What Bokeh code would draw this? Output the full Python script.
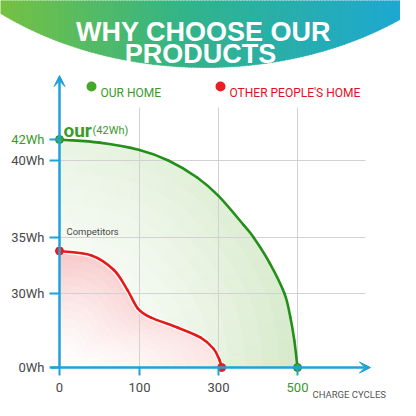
import numpy as np
from bokeh.plotting import figure
from bokeh.models import Range1d, LinearAxis, FixedTicker, Label, Arrow, VeeHead
from bokeh.embed import file_html
from bokeh.resources import INLINE

# ---------------- data ----------------
cycle_ticks = [0, 100, 300, 500]
cycle_labels = ["0", "100", "300", "500"]
wh_ticks = [0, 30, 35, 40, 42]
wh_labels = ["0Wh", "30Wh", "35Wh", "40Wh", "42Wh"]

our_cycles = [0, 50, 100, 173, 246, 300, 364, 389, 430, 467, 482, 492, 500]
our_wh = [42, 41.7, 41.0, 40.0, 38.9, 37.7, 35.8, 35.0, 32.7, 30.0, 20.3, 10.9, 0]

comp_cycles = [0, 40, 68, 85, 98, 128, 196, 254, 287, 302, 308]
comp_wh = [33.8, 33.4, 32.1, 30.3, 23.9, 20.3, 16.2, 12.2, 7.7, 3.2, 0]

# ---------------- layout (axis anchors, canvas pixels) ----------------
X_PIX = [59, 139, 218, 297]
Y_PIX = [367, 293, 237, 160, 139]


def fx(c):
    return np.interp(np.asarray(c, dtype=float), cycle_ticks, X_PIX)


def fy(w):
    return np.interp(np.asarray(w, dtype=float), wh_ticks, Y_PIX)


GREEN = "#23901a"
GREEN_TXT = "#3a9a2a"
RED = "#e31b1b"
BLUE = "#1fa2d8"
GRAY = "#474747"
GRID = "#d2d2d2"
SANS = "Roboto"

p = figure(width=400, height=400, x_range=Range1d(0, 400), y_range=Range1d(400, 0),
           x_axis_type=None, y_axis_type=None, toolbar_location=None,
           output_backend="svg", min_border=0, outline_line_color=None,
           background_fill_color="white", border_fill_color="white")

# ---------------- banner ----------------
def banner_bottom(x):
    return -166 + 233 * np.sqrt(np.clip(1 - ((x - 205) / 320.0) ** 2, 0, None))

stops = [(0.0, (118, 194, 66)), (0.45, (50, 180, 138)), (1.0, (28, 167, 214))]

def grad(t):
    for (t0, c0), (t1, c1) in zip(stops[:-1], stops[1:]):
        if t <= t1:
            f = (t - t0) / (t1 - t0)
            return "#%02x%02x%02x" % tuple(int(round(a + (b - a) * f)) for a, b in zip(c0, c1))
    return "#%02x%02x%02x" % stops[-1][1]

edges = np.linspace(-2, 404, 136)
bxs, bys, bcs = [], [], []
for x0, x1 in zip(edges[:-1], edges[1:]):
    bxs.append([x0, x1 + 0.8, x1 + 0.8, x0])
    bys.append([-2, -2, banner_bottom(x1 + 0.8), banner_bottom(x0)])
    bcs.append(grad(((x0 + x1) / 2) / 416.0))
p.patches(bxs, bys, fill_color=bcs, line_color=bcs, line_width=0.5)

p.add_layout(Label(x=203, y=31, text="WHY CHOOSE OUR", text_align="center",
                   text_baseline="alphabetic", text_font="Liberation Sans",
                   text_font_style="bold", text_font_size="27px", text_color="white"))
p.add_layout(Label(x=200, y=53, text="PRODUCTS", text_align="center",
                   text_baseline="alphabetic", text_font="Liberation Sans",
                   text_font_style="bold", text_font_size="27px", text_color="white"))

# ---------------- smooth curve geometry through the data points ----------------
def cr_segments(x, y):
    P = np.column_stack([x, y])
    ext = np.vstack([2 * P[0] - P[1], P, 2 * P[-1] - P[-2]])
    segs = []
    for i in range(1, len(ext) - 2):
        p0, p1, p2, p3 = ext[i - 1], ext[i], ext[i + 1], ext[i + 2]
        segs.append((p1, p1 + (p2 - p0) / 6.0, p2 - (p3 - p1) / 6.0, p2))
    return segs

def sample(segs, n=5):
    pts = []
    for k, (a, b, c, d) in enumerate(segs):
        ts = np.linspace(0, 1, n + 1)[(0 if k == 0 else 1):]
        for t in ts:
            pts.append((1 - t) ** 3 * a + 3 * (1 - t) ** 2 * t * b + 3 * (1 - t) * t ** 2 * c + t ** 3 * d)
    pts = np.array(pts)
    return pts[:, 0], pts[:, 1]

def draw_bezier(segs, **kw):
    p.bezier(x0=[s[0][0] for s in segs], y0=[s[0][1] for s in segs],
             x1=[s[3][0] for s in segs], y1=[s[3][1] for s in segs],
             cx0=[s[1][0] for s in segs], cy0=[s[1][1] for s in segs],
             cx1=[s[2][0] for s in segs], cy1=[s[2][1] for s in segs],
             line_cap="round", **kw)

g_segs = cr_segments(fx(our_cycles), fy(our_wh))
r_segs = cr_segments(fx(comp_cycles), fy(comp_wh))

# ---------------- gradient fills ----------------
ox, oy = fx(0), fy(0)

def cells(px, py, n_s, fn):
    xs, ys, cs = [], [], []
    se = np.linspace(0, 1, n_s + 1)
    for i in range(len(px) - 1):
        mx, my = (px[i] + px[i + 1]) / 2, (py[i] + py[i + 1]) / 2
        t = np.arctan2(oy - my, mx - ox) / (np.pi / 2)
        for k in range(n_s):
            s0, s1 = se[k], se[k + 1]
            xs.append([ox + s1 * (px[i] - ox), ox + s1 * (px[i + 1] - ox),
                       ox + s0 * (px[i + 1] - ox), ox + s0 * (px[i] - ox)])
            ys.append([oy + s1 * (py[i] - oy), oy + s1 * (py[i + 1] - oy),
                       oy + s0 * (py[i + 1] - oy), oy + s0 * (py[i] - oy)])
            cs.append(fn((s0 + s1) / 2, t))
    return xs, ys, cs

def mix(c, I):
    return "#%02x%02x%02x" % tuple(int(round(255 - (255 - v) * I)) for v in c)

gsx, gsy = sample(g_segs, 4)
rsx, rsy = sample(r_segs, 4)
gx_, gy_, gc_ = cells(gsx, gsy, 14, lambda s, t: mix((212, 233, 200), s ** 1.4 * (0.5 + 0.5 * (1 - t))))
p.patches(gx_, gy_, fill_color=gc_, line_color=gc_, line_width=0.6)
rx_, ry_, rc_ = cells(rsx, rsy, 14, lambda s, t: mix((248, 198, 198), s ** 1.4 * (0.45 + 0.55 * t)))
p.patches(rx_, ry_, fill_color=rc_, line_color=rc_, line_width=0.6)

# ---------------- grid ----------------
vx = fx(cycle_ticks[1:])
p.segment(x0=vx, y0=[107] * len(vx), x1=vx, y1=[fy(0)] * len(vx), line_color=GRID, line_width=1)
hy = fy([30, 35, 40])
p.segment(x0=[fx(0)] * 3, y0=hy, x1=[365] * 3, y1=hy, line_color=GRID, line_width=1)

# ---------------- curves ----------------
draw_bezier(g_segs, line_color=GREEN, line_width=2.6)
draw_bezier(r_segs, line_color="white", line_width=5)
draw_bezier(r_segs, line_color=RED, line_width=2.6)

# ---------------- axes ----------------
def make_axis(kind, ticks, labels, color, loc, side):
    pos = [float(v) for v in (fy(ticks) if kind == "y" else fx(ticks))]
    ax = LinearAxis(fixed_location=float(loc), ticker=FixedTicker(ticks=pos, minor_ticks=[]),
                    major_label_overrides={k: v for k, v in zip(pos, labels)})
    ax.axis_line_color = None
    ax.major_tick_line_color = BLUE
    ax.major_tick_line_width = 2
    ax.major_tick_in = 0
    ax.major_tick_out = 10 if kind == "y" else 8
    ax.major_label_standoff = 5 if kind == "y" else 7
    ax.major_label_text_font = SANS
    ax.major_label_text_font_size = "13px"
    ax.major_label_text_color = color
    p.add_layout(ax, side)

make_axis("y", wh_ticks[:4], wh_labels[:4], GRAY, fx(0), "left")
make_axis("y", wh_ticks[4:], wh_labels[4:], GREEN_TXT, fx(0), "left")
make_axis("x", cycle_ticks[:3], cycle_labels[:3], GRAY, fy(0), "below")
make_axis("x", cycle_ticks[3:], cycle_labels[3:], GREEN_TXT, fy(0), "below")

p.add_layout(Arrow(x_start=float(fx(0)), y_start=float(fy(0)), x_end=float(fx(0)), y_end=75,
                   line_color=BLUE, line_width=2.5,
                   end=VeeHead(size=11, line_color=BLUE, fill_color=BLUE, line_width=1)))
p.add_layout(Arrow(x_start=50, y_start=float(fy(0)), x_end=370, y_end=float(fy(0)),
                   line_color=BLUE, line_width=2.5,
                   end=VeeHead(size=11, line_color=BLUE, fill_color=BLUE, line_width=1)))

# ---------------- end points ----------------
p.scatter(fx([our_cycles[0], our_cycles[-1]]), fy([our_wh[0], our_wh[-1]]),
          size=8, fill_color="#3fa52a", line_color=GREEN)
p.scatter(fx([comp_cycles[0], comp_cycles[-1]]), fy([comp_wh[0], comp_wh[-1]]),
          size=8, fill_color="#ee1c25", line_color=RED)

# ---------------- legend & annotations ----------------
p.scatter([91, 220], [86, 86], size=10, fill_color=["#45a82b", "#ee1c25"], line_color=None)
p.add_layout(Label(x=100, y=92, text="OUR HOME", text_font=SANS, text_font_size="12px",
                   text_color=GREEN_TXT, text_baseline="alphabetic"))
p.add_layout(Label(x=229, y=92, text="OTHER PEOPLE'S HOME", text_font=SANS,
                   text_font_size="12px", text_color="#e0101e", text_baseline="alphabetic"))
p.add_layout(Label(x=63, y=130, text="our", text_font=SANS, text_font_style="bold",
                   text_font_size="19px", text_color=GREEN_TXT, text_baseline="alphabetic"))
p.add_layout(Label(x=92, y=130, text="(42Wh)", text_font=SANS,
                   text_font_size="11px", text_color=GREEN_TXT, text_baseline="alphabetic"))
p.add_layout(Label(x=66, y=231, text="Competitors", text_font=SANS,
                   text_font_size="9.5px", text_color=GRAY, text_baseline="alphabetic"))
p.add_layout(Label(x=312, y=394, text="CHARGE  CYCLES", text_font=SANS,
                   text_font_size="9.5px", text_color="#555555", text_baseline="alphabetic"))

open("out.html", "w").write(file_html(p, INLINE))
